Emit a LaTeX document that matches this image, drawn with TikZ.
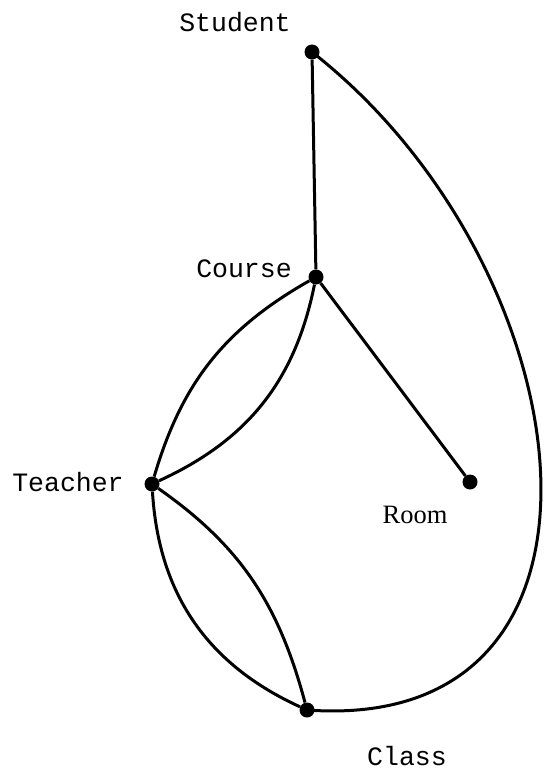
\documentclass[tikz,border=0pt]{standalone}
\usepackage{fontspec}
\setmonofont{Liberation Mono}
\newfontfamily\roomfont{Liberation Serif}
\begin{document}
\begin{tikzpicture}[x=1pt,y=-1pt,
  dot/.style={circle,fill=black,inner sep=0pt,minimum size=15pt},
  edge/.style={line width=3pt},
  lbl/.style={font=\fontsize{26.5}{30}\selectfont\ttfamily,inner sep=0pt},
  rlbl/.style={font=\fontsize{26.5}{30}\selectfont\roomfont,inner sep=0pt}]
\useasboundingbox[fill=white] (0,0) rectangle (546,773);
\node[dot] (student) at (312,52) {};
\node[dot] (course) at (316,277) {};
\node[dot] (teacher) at (152,484) {};
\node[dot] (room) at (470,482) {};
\node[dot] (class) at (307,710) {};
\node[lbl] (lstudent) at (235,22) {Student};
\node[lbl] (lcourse) at (244,269) {Course};
\node[lbl] (lteacher) at (68,482) {Teacher};
\node[rlbl] (lroom) at (415,515) {Room};
\node[lbl] (lclass) at (407,756) {Class};
\draw[edge] (student) -- (course);
\draw[edge] (course) -- (room);
\draw[edge] (course) to[bend right=22] (teacher);
\draw[edge] (course) to[bend left=27] (teacher);
\draw[edge] (teacher) to[bend right=31] (class);
\draw[edge] (teacher) to[out=-35,in=105] (class);
\draw[edge] (student.center) .. controls +(276,216) and +(340,25) .. (class.center);
\end{tikzpicture}
\end{document}
